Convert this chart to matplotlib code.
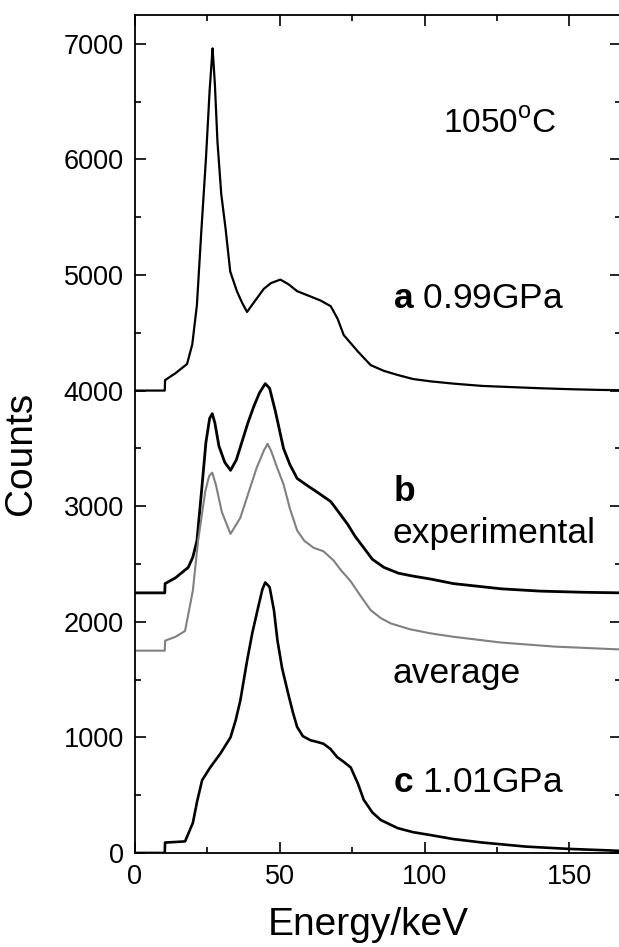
import matplotlib
matplotlib.use("Agg")
import matplotlib.pyplot as plt
import numpy as np

plt.rcParams['font.family'] = ['Liberation Sans', 'DejaVu Sans']
plt.rcParams['mathtext.fontset'] = 'custom'
plt.rcParams['mathtext.rm'] = 'Liberation Sans'
plt.rcParams['mathtext.bf'] = 'Liberation Sans:bold'

# spectrum a (0.99 GPa), offset 4000
E_a = [0, 10.3, 10.4, 14, 18, 19.8, 21.4, 22.9, 24.5, 25.8, 26.5, 26.8, 27.1, 27.6, 28.5,
       29.8, 31.3, 32.9, 35.2, 37, 38.7, 41, 44.5, 47, 50.2, 53, 56, 60, 64, 67.6, 70,
       72.1, 76.9, 81.4, 86, 90.7, 96, 102, 110, 120, 130, 140, 150, 160, 168]
C_a = [4000, 4000, 4090, 4150, 4230, 4400, 4740, 5370, 6000, 6600, 6850, 6960, 6850, 6650, 6150,
       5700, 5400, 5030, 4860, 4760, 4680, 4760, 4880, 4930, 4960, 4920, 4860, 4820, 4780, 4730, 4620,
       4480, 4340, 4220, 4170, 4135, 4100, 4080, 4060, 4040, 4030, 4020, 4012, 4006, 4003]

# spectrum b experimental, offset 2250
E_b = [0, 10.3, 10.4, 14, 18.4, 20, 21.4, 23, 24.5, 25.8, 26.7, 27.6, 29, 31, 33, 35, 37, 39,
       41, 43, 45, 46.5, 48.5, 51.3, 53.5, 56, 60, 63, 67.6, 70, 73.4, 76, 79, 82, 86, 91, 96,
       102, 110, 126.5, 140, 155, 168]
C_b = [2250, 2250, 2330, 2380, 2470, 2560, 2700, 3130, 3550, 3760, 3800, 3720, 3520, 3380, 3310, 3400, 3560, 3720,
       3860, 3980, 4060, 4020, 3820, 3500, 3360, 3240, 3170, 3120, 3040, 2960, 2845, 2740, 2640, 2540, 2470, 2420, 2395,
       2370, 2330, 2285, 2265, 2255, 2250]

# spectrum b average (grey), offset 1750
E_avg = [0, 10.3, 10.4, 14, 17.3, 20, 21.8, 24.3, 25.6, 26.7, 28, 30, 33, 36.4, 39, 42, 44.5, 45.8,
         47, 49, 51.3, 53.5, 56, 58.5, 61.7, 65.1, 68.6, 71, 74.5, 78, 81.4, 85, 88.4, 95, 102,
         110, 126.5, 145, 168]
C_avg = [1750, 1750, 1836, 1870, 1920, 2270, 2700, 3130, 3260, 3290, 3180, 2950, 2760, 2900, 3100, 3330, 3480, 3540,
         3480, 3340, 3190, 2980, 2790, 2700, 2640, 2610, 2530, 2450, 2350, 2220, 2100, 2030, 1985, 1935, 1900,
         1870, 1820, 1785, 1760]

# spectrum c (1.01 GPa)
E_c = [0, 10.3, 10.4, 14, 17.3, 20, 21.5, 23.2, 26, 29.5, 33, 34.8, 36.4, 38.7, 40.5, 42.5, 44, 45,
       46.5, 48, 49.2, 50.8, 52.7, 54.5, 56, 58, 60.6, 63, 65.1, 67.5, 69.8, 72, 74.5, 77, 79, 82,
       84.9, 90.7, 96, 102, 110, 120, 135, 150, 168]
C_c = [0, 0, 90, 95, 100, 260, 450, 630, 740, 860, 1000, 1150, 1320, 1660, 1900, 2120, 2280, 2340,
       2300, 2100, 1840, 1600, 1400, 1220, 1090, 1010, 975, 960, 945, 900, 830, 790, 740, 600, 460, 350,
       285, 215, 180, 155, 120, 90, 55, 35, 18]

fig = plt.figure(figsize=(6.19, 9.47), dpi=100)
ax = fig.add_axes([0.218, 0.0993, 0.786, 0.885])

ax.plot(E_a, C_a, color='black', lw=1.6)
ax.plot(E_b, C_b, color='black', lw=2.0)
ax.plot(E_avg, C_avg, color='#808080', lw=1.5)
ax.plot(E_c, C_c, color='black', lw=1.9)

ax.set_xlim(0, 168)
ax.set_ylim(0, 7250)
ax.set_xticks([0, 50, 100, 150])
ax.set_xticks([25, 75, 125], minor=True)
ax.set_yticks(np.arange(0, 7001, 1000))
ax.set_yticks(np.arange(500, 7001, 1000), minor=True)
ax.tick_params(which='both', direction='in', top=True, right=True, labelsize=19.5, width=1.2, pad=8)
ax.tick_params(which='major', length=8)
ax.tick_params(which='minor', length=4)
for s in ax.spines.values():
    s.set_linewidth(1.3)
ax.spines['right'].set_visible(False)  # cut off in the original scan

ax.set_xlabel("Energy/keV", fontsize=28)
ax.set_ylabel("Counts", fontsize=28)
ax.xaxis.set_label_coords(0.48, -0.064)
ax.yaxis.set_label_coords(-0.197, 0.477)

ax.text(106.5, 6233, r"1050$^{\mathrm{o}}$C", fontsize=24)
ax.text(89, 4710, r"$\mathbf{a}$ 0.99GPa", fontsize=25.5)
ax.text(89, 3043, r"$\mathbf{b}$", fontsize=25.5)
ax.text(89, 2681, "experimental", fontsize=25.5)
ax.text(89, 1466, "average", fontsize=25.5)
ax.text(89, 526, r"$\mathbf{c}$ 1.01GPa", fontsize=25.5)

plt.savefig("out.png", dpi=100)
plt.close()
